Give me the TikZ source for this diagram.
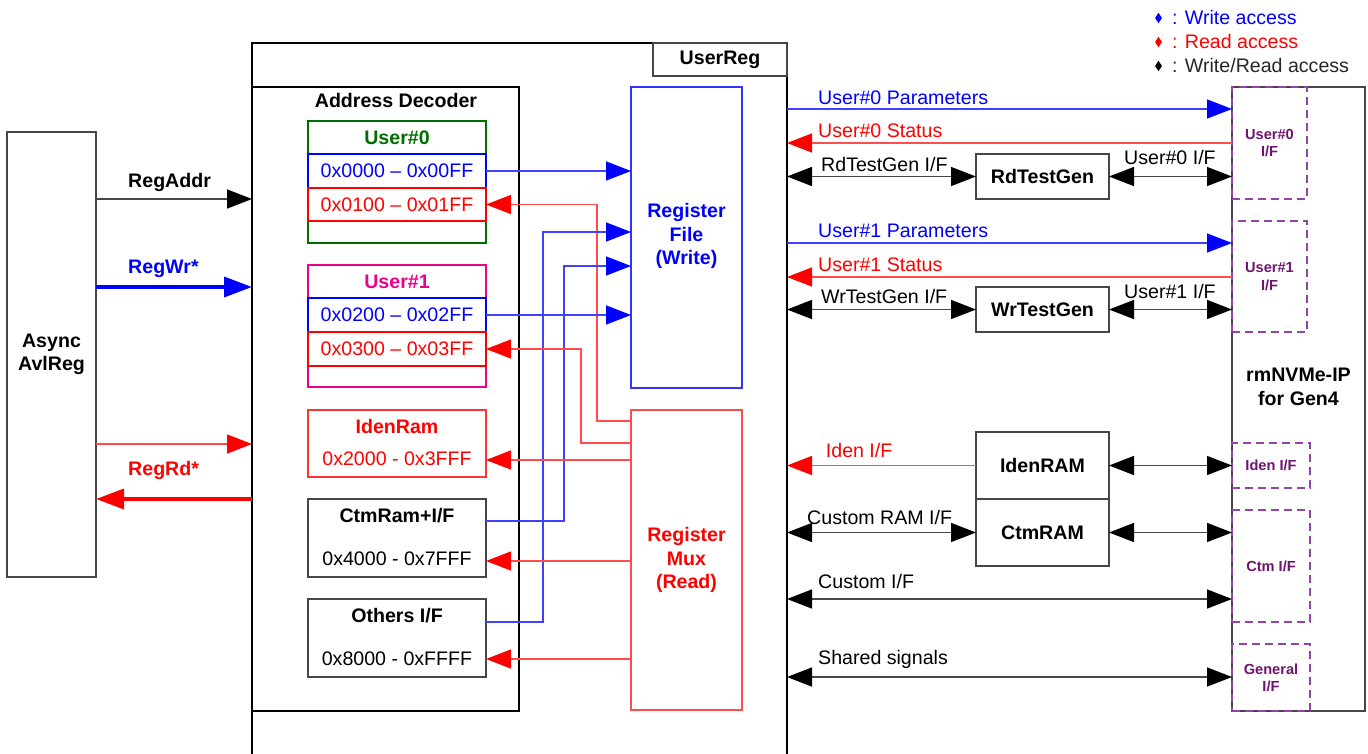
\documentclass[tikz,border=0pt]{standalone}
\usepackage{fontspec}
\setmainfont{Liberation Sans}
\usetikzlibrary{
    arrows.meta,      % For arrow tips
    calc,             % For shifted anchors
    positioning,
    shapes.geometric  % For the legend diamonds
}
\definecolor{ipurple}{RGB}{145,70,165}
\definecolor{iptext}{RGB}{112,20,112}
\definecolor{dgreen}{RGB}{0,110,0}
\definecolor{lgray}{RGB}{70,70,70}
\newcommand{\regfont}{\fontsize{19.6}{23.5}\selectfont}
\newcommand{\iffont}{\fontsize{14.6}{17.3}\selectfont\bfseries}

\begin{document}
\begin{tikzpicture}[
    x=1pt, y=-1pt,
    rmtext/.style={font=\regfont},
    bftext/.style={font=\regfont\bfseries},
    lbl/.style={rmtext, anchor=west, inner sep=0pt},
    box/.style={draw=lgray, line width=1.3pt, inner sep=0pt, outer sep=0pt, anchor=north west, align=center},
    ifbox/.style={box, draw=ipurple, dash pattern=on 8pt off 5pt, font=\iffont, text=iptext},
    % Connector styles
    wr/.style={draw=blue!75, line width=1.5pt, -{Triangle[length=25pt, width=19pt, color=blue]}},
    rd/.style={draw=red!70, line width=1.5pt, -{Triangle[length=25pt, width=19pt, color=red]}},
    bk/.style={draw=lgray, line width=1.5pt, -{Triangle[length=25pt, width=19pt, color=black]}},
    bi/.style={draw=lgray, line width=1.5pt, {Triangle[length=25pt, width=19pt, color=black]}-{Triangle[length=25pt, width=19pt, color=black]}},
    fat/.style={line width=3.5pt, -{Triangle[length=28pt, width=20pt]}}
]
    \useasboundingbox (0,0) rectangle (1368,753);

    % --- Legend ---
    \node[diamond, aspect=0.66, fill=blue, inner sep=0pt, minimum width=7pt, minimum height=10.6pt] (kwr) at (1158.5,18) {};
    \node[diamond, aspect=0.66, fill=red, inner sep=0pt, minimum width=7pt, minimum height=10.6pt] (krd) at (1158.5,42) {};
    \node[diamond, aspect=0.66, fill=black, inner sep=0pt, minimum width=7pt, minimum height=10.6pt] (kbi) at (1158.5,66) {};
    \node[lbl, text=blue] (kwrt) at (1172,17) {: Write access};
    \node[lbl, text=red] (krdt) at (1172,41) {: Read access};
    \node[lbl, text=black!85] (kbit) at (1172,65) {: Write/Read access};

    % --- Host side ---
    \node[box, bftext, minimum width=89pt, minimum height=445pt] (avl) at (7,132) {Async\\AvlReg};

    % --- UserReg ---
    \node[box, draw=black, minimum width=535pt, minimum height=720pt] (userreg) at (252,43) {};
    \node[box, bftext, minimum width=134pt, minimum height=33pt] (regname) at (653,43) {UserReg};
    \node[box, draw=black, minimum width=267pt, minimum height=624pt] (decoder) at (252,87) {};
    \node[bftext] (dectitle) at (396,100) {Address Decoder};

    % User#0 block
    \node[box, draw=dgreen, minimum width=178pt, minimum height=122pt] (u0) at (308,121) {};
    \node[box, draw=dgreen, text=dgreen, bftext, minimum width=178pt, minimum height=33pt] (u0t) at (u0.north west) {User\#0};
    \node[box, draw=blue, text=blue, rmtext, minimum width=178pt, minimum height=34pt] (u0w) at (u0t.south west) {0x0000 – 0x00FF};
    \node[box, draw=red, text=red, rmtext, minimum width=178pt, minimum height=33pt] (u0r) at (u0w.south west) {0x0100 – 0x01FF};

    % User#1 block
    \node[box, draw=magenta, minimum width=178pt, minimum height=122pt] (u1) at (308,265) {};
    \node[box, draw=magenta, text=magenta, bftext, minimum width=178pt, minimum height=33pt] (u1t) at (u1.north west) {User\#1};
    \node[box, draw=blue, text=blue, rmtext, minimum width=178pt, minimum height=34pt] (u1w) at (u1t.south west) {0x0200 – 0x02FF};
    \node[box, draw=red, text=red, rmtext, minimum width=178pt, minimum height=34pt] (u1r) at (u1w.south west) {0x0300 – 0x03FF};

    % Memory and other blocks
    \node[box, draw=red!80, minimum width=178pt, minimum height=67pt] (idenram) at (308,410) {};
    \node[bftext, text=red] (idenramt) at ($(idenram.north)+(0,16)$) {IdenRam};
    \node[rmtext, text=red] (idenrama) at ($(idenram.north)+(0,49)$) {0x2000 - 0x3FFF};
    \node[box, minimum width=178pt, minimum height=78pt] (ctmram) at (308,499) {};
    \node[bftext] (ctmramt) at ($(ctmram.north)+(0,16.5)$) {CtmRam+I/F};
    \node[rmtext] (ctmrama) at ($(ctmram.north)+(0,60)$) {0x4000 - 0x7FFF};
    \node[box, minimum width=178pt, minimum height=78pt] (others) at (308,599) {};
    \node[bftext] (otherst) at ($(others.north)+(0,16.5)$) {Others I/F};
    \node[rmtext] (othersa) at ($(others.north)+(0,60)$) {0x8000 - 0xFFFF};

    % Register file and mux
    \node[box, draw=blue!80, minimum width=111pt, minimum height=301pt] (regfile) at (631,87) {};
    \node[bftext, text=blue, align=center] (regfilet) at ($(regfile.north)+(0,149)$) {Register\\File\\(Write)};
    \node[box, draw=red!70, text=red, bftext, minimum width=111pt, minimum height=300pt] (regmux) at (631,410) {Register\\Mux\\(Read)};

    % --- rmNVMe-IP ---
    \node[box, minimum width=133pt, minimum height=624pt] (rmnvme) at (1232,87) {};
    \node[bftext, align=center] (rmnvmet) at ($(rmnvme.north)+(0,300)$) {rmNVMe-IP\\for Gen4};
    \node[ifbox, minimum width=75pt, minimum height=112pt] (u0if) at (1232,87) {User\#0\\I/F};
    \node[ifbox, minimum width=75pt, minimum height=111pt] (u1if) at (1232,221) {User\#1\\I/F};
    \node[ifbox, minimum width=78pt, minimum height=45pt] (idenif) at (1232,443) {Iden I/F};
    \node[ifbox, minimum width=78pt, minimum height=112pt] (ctmif) at (1232,510) {Ctm I/F};
    \node[ifbox, minimum width=78pt, minimum height=67pt] (genif) at (1232,644) {General\\I/F};

    % Test generators and RAMs
    \node[box, bftext, minimum width=133pt, minimum height=45pt] (rdtg) at (976,154) {RdTestGen};
    \node[box, bftext, minimum width=133pt, minimum height=45pt] (wrtg) at (976,287) {WrTestGen};
    \node[box, bftext, minimum width=133pt, minimum height=67pt] (idenblk) at (976,432) {IdenRAM};
    \node[box, bftext, minimum width=133pt, minimum height=67pt] (ctmblk) at (idenblk.south west) {CtmRAM};

    % --- Host connections ---
    \draw[bk] ($(avl.north east)+(0,67)$) coordinate (addr) -- (addr -| decoder.west);
    \node[lbl, bftext] (addrlbl) at ($(addr)+(32,-17)$) {RegAddr};
    \draw[fat, blue] ($(avl.north east)+(0,155)$) coordinate (wrin) -- (wrin -| decoder.west);
    \node[lbl, bftext, text=blue] (wrlbl) at ($(wrin)+(32,-18)$) {RegWr*};
    \draw[rd] ($(avl.north east)+(0,312)$) coordinate (rdreq) -- (rdreq -| decoder.west);
    \coordinate (rdout) at ($(avl.north east)+(0,367)$);
    \draw[fat, red] (rdout -| decoder.west) -- (rdout);
    \node[lbl, bftext, text=red] (rdlbl) at ($(rdout)+(32,-29)$) {RegRd*};

    % --- Decoder to register file / mux ---
    \draw[wr] (u0w.east) -- (u0w.east -| regfile.west);
    \draw[rd] ($(regmux.north west)+(0,11)$) -| ($(u0r.east)+(111,0)$) -- (u0r.east);
    \draw[wr] ($(others.north east)+(0,23)$) -| ($(regfile.north west)+(-88,145)$) -- ($(regfile.north west)+(0,145)$);
    \draw[wr] ($(ctmram.north east)+(0,22)$) -| ($(regfile.north west)+(-67,179)$) -- ($(regfile.north west)+(0,179)$);
    \draw[wr] (u1w.east) -- (u1w.east -| regfile.west);
    \draw[rd] ($(regmux.north west)+(0,33)$) -| ($(u1r.east)+(95,0)$) -- (u1r.east);
    \draw[rd] ($(regmux.north west)+(0,50)$) coordinate (mx2) -- (mx2 -| idenram.east);
    \draw[rd] ($(regmux.north west)+(0,151)$) coordinate (mx3) -- (mx3 -| ctmram.east);
    \draw[rd] ($(regmux.north west)+(0,249)$) coordinate (mx4) -- (mx4 -| others.east);

    % --- UserReg to rmNVMe-IP ---
    \draw[wr] ($(userreg.north east)+(0,66)$) coordinate (par0) -- (par0 -| rmnvme.west);
    \node[lbl, text=blue] (par0lbl) at ($(par0)+(31,-11.6)$) {User\#0 Parameters};
    \coordinate (sta0) at ($(userreg.north east)+(0,100)$);
    \draw[rd] (sta0 -| rmnvme.west) -- (sta0);
    \node[lbl, text=red] (sta0lbl) at ($(sta0)+(31,-12.6)$) {User\#0 Status};
    \draw[bi] (rdtg.west -| userreg.east) -- (rdtg.west);
    \node[lbl] (rdtglbl) at ($(rdtg.west -| userreg.east)+(34,-12.4)$) {RdTestGen I/F};
    \draw[bi] (rdtg.east) -- (rdtg.east -| rmnvme.west);
    \node[lbl] (u0iflbl) at ($(rdtg.east)+(15,-18.7)$) {User\#0 I/F};

    \draw[wr] ($(userreg.north east)+(0,200)$) coordinate (par1) -- (par1 -| rmnvme.west);
    \node[lbl, text=blue] (par1lbl) at ($(par1)+(31,-11.7)$) {User\#1 Parameters};
    \coordinate (sta1) at ($(userreg.north east)+(0,234)$);
    \draw[rd] (sta1 -| rmnvme.west) -- (sta1);
    \node[lbl, text=red] (sta1lbl) at ($(sta1)+(31,-12.4)$) {User\#1 Status};
    \draw[bi] (wrtg.west -| userreg.east) -- (wrtg.west);
    \node[lbl] (wrtglbl) at ($(wrtg.west -| userreg.east)+(34,-12.7)$) {WrTestGen I/F};
    \draw[bi] (wrtg.east) -- (wrtg.east -| rmnvme.west);
    \node[lbl] (u1iflbl) at ($(wrtg.east)+(15,-17.7)$) {User\#1 I/F};

    \draw[rd] (idenblk.west) -- (idenblk.west -| userreg.east);
    \node[lbl, text=red] (idenlbl) at ($(idenblk.west -| userreg.east)+(38.7,-15)$) {Iden I/F};
    \draw[bi] (idenblk.east) -- (idenblk.east -| rmnvme.west);
    \draw[bi] (ctmblk.west -| userreg.east) -- (ctmblk.west);
    \node[lbl] (ctmlbl) at ($(ctmblk.west -| userreg.east)+(20,-15)$) {Custom RAM I/F};
    \draw[bi] (ctmblk.east) -- (ctmblk.east -| rmnvme.west);

    \draw[bi] ($(userreg.north east)+(0,556)$) coordinate (cif) -- (cif -| rmnvme.west);
    \node[lbl] (ciflbl) at ($(cif)+(31,-17.6)$) {Custom I/F};
    \draw[bi] ($(userreg.north east)+(0,634)$) coordinate (shr) -- (shr -| rmnvme.west);
    \node[lbl] (shrlbl) at ($(shr)+(31,-17.3)$) {Shared signals};

\end{tikzpicture}
\end{document}
